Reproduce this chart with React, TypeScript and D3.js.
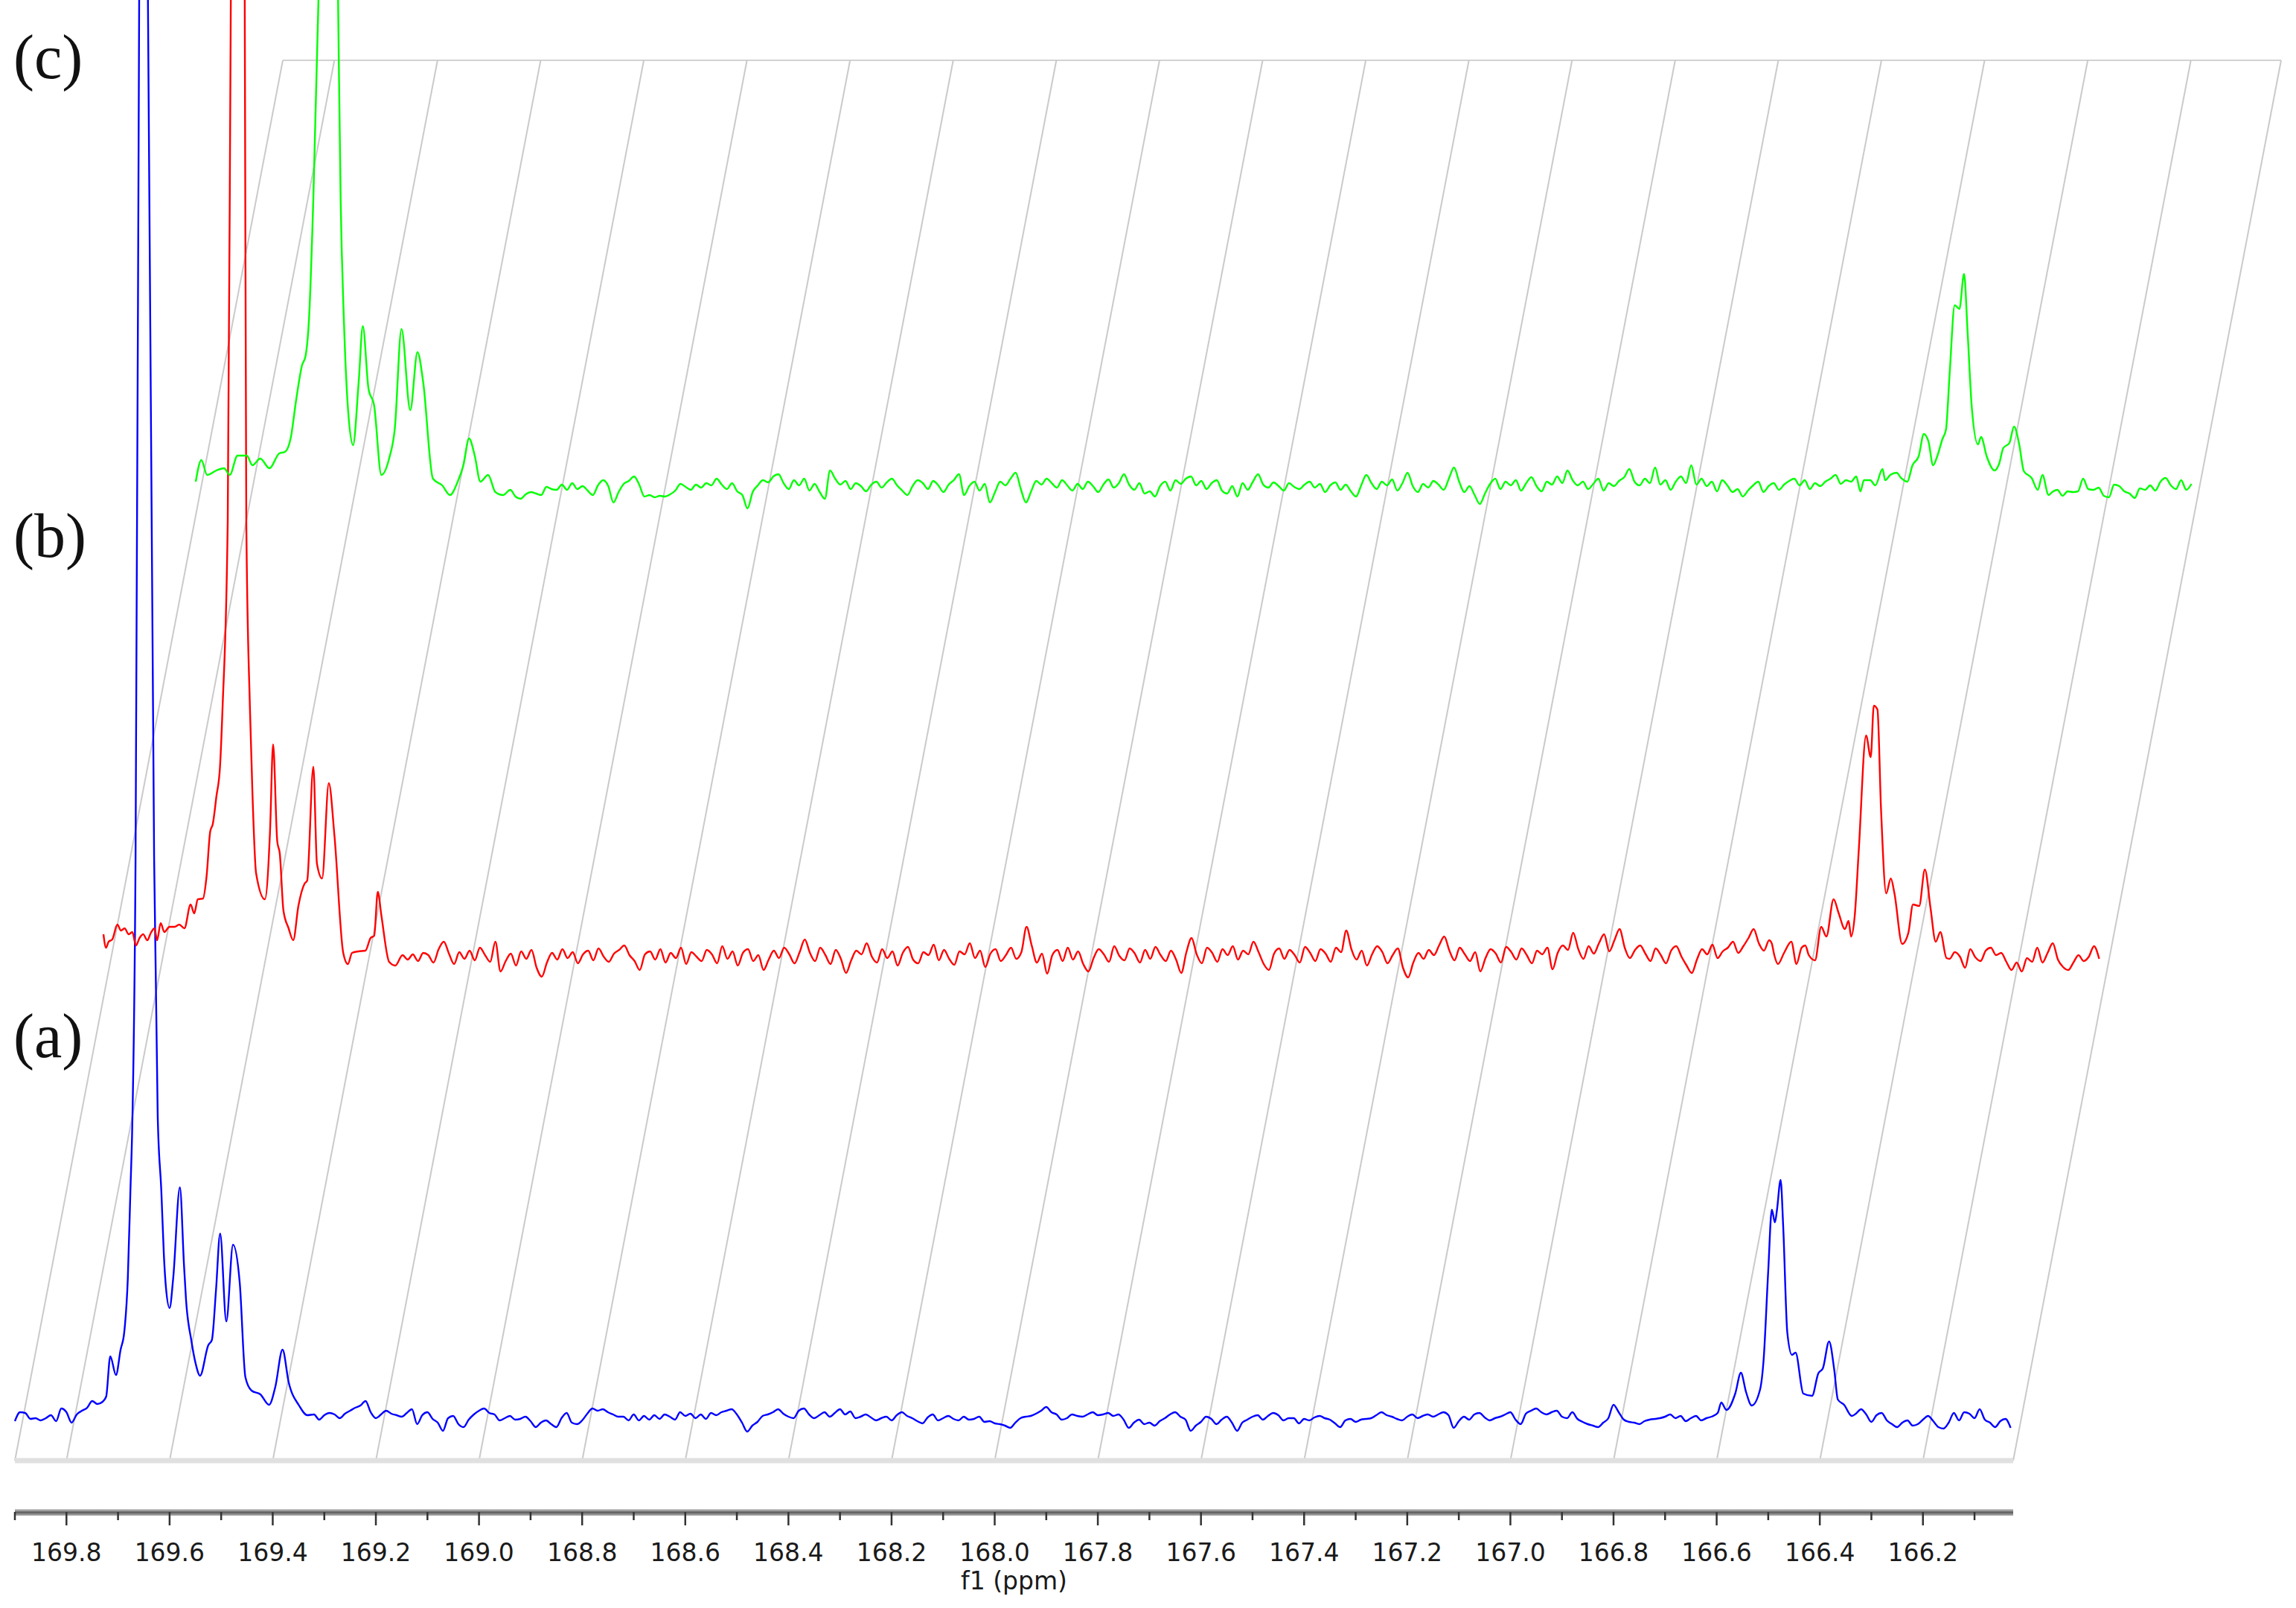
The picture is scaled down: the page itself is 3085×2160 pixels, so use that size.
import * as d3 from 'd3';

// stacked 13C NMR spectra, carbonyl region
const WIDTH = 3085;
const HEIGHT = 2160;

const majorTicks = [169.8, 169.6, 169.4, 169.2, 169.0, 168.8, 168.6, 168.4, 168.2, 168.0, 167.8, 167.6, 167.4, 167.2, 167.0, 166.8, 166.6, 166.4, 166.2];
const minorTicks = [169.9, 169.7, 169.5, 169.3, 169.1, 168.9, 168.7, 168.5, 168.3, 168.1, 167.9, 167.7, 167.5, 167.3, 167.1, 166.9, 166.7, 166.5, 166.3, 166.1];
const axisTitle = 'f1 (ppm)';
const spectrumLabels = ['(a)', '(b)', '(c)'];

// baseline runs: [first ppm, values every 0.01 ppm going upfield]
const blueRuns: [number, number[]][] = [
    [169.9, [-6, 6, 5, -3, -2, -5, -2, 2, -6, 11, 6, -8, 3, 8, 12, 21, 17, 20]],
    [169.32, [
        3, -4, 2, 5, 3, -2, 4, 8, 12, 15,
        21, 6, -2, 3, 8, 4, 2, 0, 5, 10,
        -10, 2, 6, -3, -8, -19, -2, 1, -10, -14,
        -4, 3, 8, 11, 5, 3, -5, -2, 1, -4,
        -3, 0, -6, -14, -8, -5, -10, -14, -2, 5,
        -8, -10, -5, 4, 11, 8, 10, 6, 3, 0,
        0, -5, 3, -5, 1, -4, 2, -3, 3, 0,
        -4, 6, 1, 4, -2, 3, -3, 5, 2, 6,
        8, 10, 3, -8, -20, -12, -7, 1, 3, 6,
        10, 4, 0, -2, 8, 11, 3, -2, 2, 6,
        0, 5, 10, 3, 7, -2, 0, 3, -1, -5,
        -2, 0, -5, 2, 6, 1, -2, -6, -9, -1,
        3, -5, -2, 1, -3, -5, 0, -4, -3, 0,
        -7, -6, -9, -10, -12, -15, -8, -2, 0, 1,
        4, 8, 13, 6, 3, -4, -2, 3, 1, 0,
        3, 6, 2, 3, 5, 1, 3, -4, -15, -8,
        -4, -10, -8, -12, -6, -2, 3, 6, 0, -4,
        -19, -12, -7, 0, -3, -10, -4, 0, -8, -19,
        -8, -4, 0, 2, -4, 1, 5, 2, -5, -2,
        -2, -9, -3, -5, -1, 1, -2, -4, -9, -14,
        -5, -3, -7, -4, -3, -2, 2, 6, 2, 0,
        -3, -5, 0, 3, -2, 1, 3, 0, 3, 6,
        2, -15, -6, 0, -4, 3, 5, -1, -5, -2,
        0, 3, 6, -4, -10, 4, 8, 11, 6, 3,
        6, 8, 0, -2, 6, -3, -7, -10, -12, -14,
        -8, -2, 16, 6, -4, -7, -8, -10, -6, -4,
        -3, -2, 0, 3, -2, 1, -6, -2, 1, -5,
        -2, 0,
    ]],
    [166.33, [4, 10, 3, -7, 2, 5, -5, -10, -14, -8, -5, -12, -10, -4, 1, -6, -14, -16, -8, 5, -5, 6, 4, -2, 10, -4, -8, -14, -6, -3, -15]],
];

// resolved peak regions: [ppm, intensity]
const bluePeaks: [number, number][] = [
    [169.723, 27], [169.715, 81], [169.704, 56], [169.695, 90], [169.688, 113], [169.681, 186],
    [169.676, 303], [169.672, 403], [169.666, 750], [169.659, 1903], [169.65, 3400], [169.642, 1903],
    [169.63, 750], [169.623, 403], [169.616, 303], [169.611, 216], [169.607, 173], [169.6, 146],
    [169.593, 186], [169.58, 308], [169.572, 203], [169.568, 156], [169.558, 103], [169.549, 70],
    [169.541, 55], [169.525, 96], [169.518, 103], [169.51, 170], [169.502, 246], [169.49, 128],
    [169.477, 231], [169.464, 180], [169.453, 53], [169.441, 35], [169.424, 30], [169.407, 16],
    [169.395, 40], [169.381, 90], [169.369, 46], [169.349, 15], [169.333, 2],
    [166.598, 5], [166.591, 19], [166.581, 9], [166.564, 31], [166.553, 59], [166.543, 33],
    [166.532, 15], [166.516, 36], [166.509, 76], [166.5, 196], [166.493, 278], [166.487, 261],
    [166.483, 278], [166.476, 318], [166.471, 256], [166.463, 113], [166.454, 83], [166.447, 86],
    [166.432, 31], [166.415, 28], [166.403, 58], [166.394, 65], [166.382, 101], [166.372, 63],
    [166.365, 23], [166.353, 16], [166.338, 1],
];

const redRuns: [number, number[]][] = [
    [169.32, [
        2, -4, 3, -6, 5, 2, -8, 10, 20, 4,
        -10, 6, -3, 8, -5, 12, 2, -7, 20, -20,
        -6, 4, -12, 7, -3, 9, -15, -27, -8, 5,
        -4, 10, -2, 6, -9, 3, 8, -5, 11, 0,
        -7, 4, 9, 15, 2, -6, -18, 3, 7, -4,
        10, -8, 5, -2, 12, -10, 6, 0, -6, 9,
        3, -9, 14, -3, 7, -12, 5, 10, -6, 2,
        -18, -4, 8, -2, 12, 3, -9, 6, 23, 5,
        -6, 12, 2, -10, 9, -3, -22, -5, 8, 3,
        18, 0, -8, 10, -2, 7, -12, 5, 13, -4,
        -9, 6, 2, 16, -5, 9, -3, -11, 7, 3,
        18, -2, 8, -14, 4, 10, -6, 2, 12, -3,
        6, 40, 15, -8, 4, -23, 2, 9, -6, 12,
        -4, 7, -10, -20, -2, 10, 3, -7, 14, 1,
        -5, 11, 4, -8, 9, -3, 13, 2, -6, 8,
        -4, -22, 6, 25, 3, -9, 12, 5, -7, 10,
        2, 14, -4, 8, 3, 20, 6, -10, -18, 4,
        11, -3, 9, 2, -8, 13, 5, -6, 10, 4,
        -7, 12, 6, 35, 10, -4, 8, -12, 3, 14,
        6, -9, 2, 11, -15, -28, -8, 5, -3, 9,
        2, 15, 27, 8, -5, 12, 3, -6, 6, -20,
        -2, 10, 4, -8, 13, 6, -4, 11, 2, -9,
        8, 3, 12, -17, 5, 15, 9, 32, 10, -3,
        14, 4, 18, 30, 7, 22, 37, 12, -2, 9,
        15, 4, -6, 11, 2, -9, 8, 14, 0, -12,
        -22, -4, 10, 3, 16, -2, 7, 12, 20, 5,
        14, 25, 37, 18, 8, 22,
    ]],
    [166.32, [-3, 6, 0, -15, 10, -1, -6, 8, 12, 2, 5, -7, -18, -8, -20, -2, -7, 12, -8, 5, 18, -4, -14, -18, -8, 2, -6, 0, 14, -3]],
];

const redPeaks: [number, number][] = [
    [169.9, 30], [169.895, 12], [169.89, 20], [169.883, 23], [169.873, 43], [169.866, 35],
    [169.859, 38], [169.851, 30], [169.844, 33], [169.837, 15], [169.83, 25], [169.823, 30],
    [169.815, 22], [169.808, 32], [169.801, 38], [169.796, 22], [169.789, 45], [169.782, 33],
    [169.772, 40], [169.762, 40], [169.753, 43], [169.743, 38], [169.731, 70], [169.724, 58],
    [169.717, 77], [169.707, 78], [169.7, 108], [169.693, 168], [169.688, 178], [169.681, 215],
    [169.674, 255], [169.669, 335], [169.659, 585], [169.653, 1285], [169.64, 2600], [169.626, 1285],
    [169.623, 585], [169.616, 335], [169.611, 218], [169.604, 112], [169.587, 77], [169.577, 168],
    [169.571, 285], [169.563, 155], [169.558, 138], [169.551, 62], [169.541, 38], [169.532, 22],
    [169.522, 68], [169.51, 98], [169.505, 102], [169.493, 255], [169.486, 125], [169.476, 105],
    [169.463, 233], [169.452, 162], [169.435, 5], [169.426, -10], [169.418, 5], [169.406, 7],
    [169.392, 8], [169.382, 25], [169.375, 28], [169.368, 87], [169.361, 55], [169.346, -7],
    [169.334, -12],
    [166.665, 18], [166.66, 2], [166.653, -10], [166.641, 5], [166.627, 20], [166.617, -10],
    [166.607, 12], [166.6, 15], [166.593, 2], [166.581, -5], [166.569, 40], [166.559, 27],
    [166.545, 77], [166.535, 58], [166.523, 37], [166.516, 48], [166.511, 27], [166.504, 55],
    [166.496, 145], [166.482, 297], [166.473, 268], [166.467, 337], [166.46, 332], [166.453, 198],
    [166.443, 85], [166.434, 105], [166.427, 85], [166.412, 17], [166.4, 32], [166.391, 70],
    [166.379, 68], [166.368, 117], [166.357, 65], [166.347, 20], [166.338, 33], [166.326, -2],
];

const greenRuns: [number, number[]][] = [
    [169.29, [
        -3, -12, -15, -9, -6, -8, -10, 1, -2, -3,
        4, -3, 6, -2, 2, -4, -10, 3, 10, 2,
        -20, -6, 5, 9, 15, 4, -12, -10, -13, -11,
        -12, -9, -4, 5, 1, -3, 4, 0, 6, 3,
        12, 4, -2, 6, -5, -10, -28, -6, 3, 10,
        7, 15, 18, 6, -2, 10, 3, 12, -4, 5,
        -6, -15, 23, 12, 4, 9, -2, 6, 2, -5,
        4, 8, 0, 7, 12, 3, -4, -10, 2, 10,
        6, -2, 9, 3, -6, 4, 10, 18, -10, 2,
        8, -4, 5, -20, -6, 8, 3, 12, 20, -2,
        -20, -5, 9, 4, 12, 6, 0, 10, 3, -4,
        5, -2, 8, 2, -6, 4, 11, 0, 6, 18,
        4, -3, 6, -8, -5, -12, 2, 8, -4, 10,
        5, 12, 15, 3, 9, -2, 6, 10, -4, -8,
        2, -12, 6, -3, 8, 18, 4, 0, 7, 2,
        -4, 6, 1, -2, 4, 8, 0, 5, -6, 3,
        7, -3, 4, -5, -12, 3, 17, 6, -2, 8,
        3, 11, -4, 6, 20, 2, -6, 5, 0, 9,
        4, -3, 12, 27, 8, -6, 2, -10, -22, -8,
        5, 12, -2, 8, 3, 10, -4, 6, 14, 2,
        -5, 8, 4, 15, 6, 23, 10, 3, 8, -2,
        5, 12, -4, 6, 2, 9, 14, 25, 8, 3,
        12, 6, 27, 4, 10, -3, 8, 15, 6, 30,
        4, 12, 2, 8, -5, 10, 3, -6, -2, -12,
        -4, 3, 8, -6, 2, 6, -3, 4, 9, 12,
        3, 10, -2, 6, 2, 8, 12, 17, 5, 10,
        8, 15,
    ]],
    [166.3, [-6, -3, -11, -5, -6, -5, 12, -2, -3, 0, -11, -13, 4, 2, -5, -8, -14, -1, -3, 3, -4, 8, 13, 3, -2, 10, -3, 5]],
];

const greenPeaks: [number, number][] = [
    [169.9, 8], [169.889, 37], [169.878, 17], [169.86, 23], [169.845, 26], [169.834, 17],
    [169.819, 43], [169.801, 43], [169.79, 30], [169.775, 39], [169.757, 26], [169.738, 46],
    [169.727, 48], [169.716, 66], [169.705, 119], [169.694, 164], [169.687, 177], [169.68, 231],
    [169.672, 387], [169.662, 655], [169.643, 1500], [169.624, 655], [169.619, 387], [169.613, 231],
    [169.606, 119], [169.595, 57], [169.584, 142], [169.576, 217], [169.565, 133], [169.554, 110],
    [169.54, 17], [169.525, 39], [169.514, 79], [169.501, 213], [169.484, 104], [169.47, 182],
    [169.459, 142], [169.44, 12], [169.422, 3], [169.407, -10], [169.392, 8], [169.381, 30],
    [169.37, 66], [169.359, 43], [169.348, 8], [169.333, 17], [169.319, -6], [169.304, -10],
    [166.672, -5], [166.665, 10], [166.653, 10], [166.643, 3], [166.629, 25], [166.624, 10],
    [166.614, 17], [166.602, 20], [166.593, 13], [166.581, 8], [166.571, 30], [166.559, 42],
    [166.549, 72], [166.54, 62], [166.531, 30], [166.523, 42], [166.513, 65], [166.506, 78],
    [166.499, 152], [166.489, 245], [166.48, 240], [166.471, 287], [166.464, 208], [166.456, 108],
    [166.444, 58], [166.438, 68], [166.427, 42], [166.412, 23], [166.403, 32], [166.395, 53],
    [166.383, 60], [166.374, 82], [166.364, 58], [166.355, 22], [166.34, 13], [166.328, -3],
    [166.319, 17], [166.307, -10],
];

// layout
const X0 = 20;
const X1 = 2705;
const FLOOR_Y = 1962;
const TOP_Y = 81;
const SLANT = 360;
const AXIS_Y = 2031;

function buildSpectrum(runs: [number, number[]][], peaks: [number, number][]) {
    const pts: [number, number][] = [];
    runs.forEach(([start, vals]) =>
        vals.forEach((v, i) => pts.push([+(start - i * 0.01).toFixed(3), v]))
    );
    peaks.forEach((p) => pts.push(p));
    return pts.sort((a, b) => b[0] - a[0]);
}

const traces = [
    { label: spectrumLabels[0], color: '#0000ff', dx: 0, base: 1903, labelY: 1420, data: buildSpectrum(blueRuns, bluePeaks) },
    { label: spectrumLabels[1], color: '#ff0000', dx: 119, base: 1285, labelY: 748, data: buildSpectrum(redRuns, redPeaks) },
    { label: spectrumLabels[2], color: '#00ff00', dx: 243, base: 655, labelY: 105, data: buildSpectrum(greenRuns, greenPeaks) },
];

export default function App() {
    const x = d3.scaleLinear().domain([169.9, 166.025]).range([X0, X1]);
    const gridPpm = [169.9, ...majorTicks, 166.025];

    return (
        <svg
            width={WIDTH}
            height={HEIGHT}
            viewBox={`0 0 ${WIDTH} ${HEIGHT}`}
            style={{ position: 'absolute', left: 0, top: 0, display: 'block', background: '#fff' }}
        >
            <defs>
                <linearGradient id="axisBar" x1="0" y1="0" x2="0" y2="1">
                    <stop offset="0" stopColor="#d4d4d4" />
                    <stop offset="0.5" stopColor="#5e5e5e" />
                    <stop offset="1" stopColor="#b4b4b4" />
                </linearGradient>
            </defs>
            <rect width={WIDTH} height={HEIGHT} fill="#fff" />

            {/* slanted floor grid */}
            <line x1={X0 + SLANT} y1={TOP_Y} x2={X1 + SLANT} y2={TOP_Y} stroke="#d2d2d2" strokeWidth={2} />
            {gridPpm.map((t) => (
                <line
                    key={`g${t}`}
                    x1={x(t)}
                    y1={FLOOR_Y}
                    x2={x(t) + SLANT}
                    y2={TOP_Y}
                    stroke="#cacaca"
                    strokeWidth={2}
                />
            ))}
            <line x1={X0} y1={FLOOR_Y} x2={X1} y2={FLOOR_Y} stroke="#e0e0e0" strokeWidth={7} />

            {/* spectra */}
            {traces.map((tr) => {
                const y = d3.scaleLinear().domain([0, 1000]).range([tr.base, tr.base - 1000]);
                const line = d3
                    .line<[number, number]>()
                    .x((d) => x(d[0]) + tr.dx)
                    .y((d) => y(d[1]))
                    .curve(d3.curveMonotoneX);
                return (
                    <path
                        key={tr.label}
                        d={line(tr.data) ?? ''}
                        fill="none"
                        stroke={tr.color}
                        strokeWidth={2.4}
                        strokeLinejoin="round"
                    />
                );
            })}

            {traces.map((tr) => (
                <text
                    key={`l${tr.label}`}
                    x={18}
                    y={tr.labelY}
                    fontFamily="'Liberation Serif', 'Times New Roman', serif"
                    fontSize={84}
                    fill="#111"
                >
                    {tr.label}
                </text>
            ))}

            {/* ppm axis */}
            <rect x={X0} y={AXIS_Y - 4} width={X1 - X0} height={9} fill="url(#axisBar)" />
            {minorTicks.map((t) => (
                <line key={`m${t}`} x1={x(t)} y1={AXIS_Y} x2={x(t)} y2={AXIS_Y + 11} stroke="#333" strokeWidth={2.5} />
            ))}
            {majorTicks.map((t) => (
                <g key={`t${t}`}>
                    <line x1={x(t)} y1={AXIS_Y} x2={x(t)} y2={AXIS_Y + 18} stroke="#333" strokeWidth={2.5} />
                    <text
                        x={x(t)}
                        y={2097}
                        textAnchor="middle"
                        fontFamily="'DejaVu Sans', Verdana, sans-serif"
                        fontSize={33}
                        fill="#1a1a1a"
                    >
                        {t.toFixed(1)}
                    </text>
                </g>
            ))}
            <text
                x={(X0 + X1) / 2}
                y={2135}
                textAnchor="middle"
                fontFamily="'DejaVu Sans', Verdana, sans-serif"
                fontSize={33}
                fill="#1a1a1a"
            >
                {axisTitle}
            </text>
        </svg>
    );
}
